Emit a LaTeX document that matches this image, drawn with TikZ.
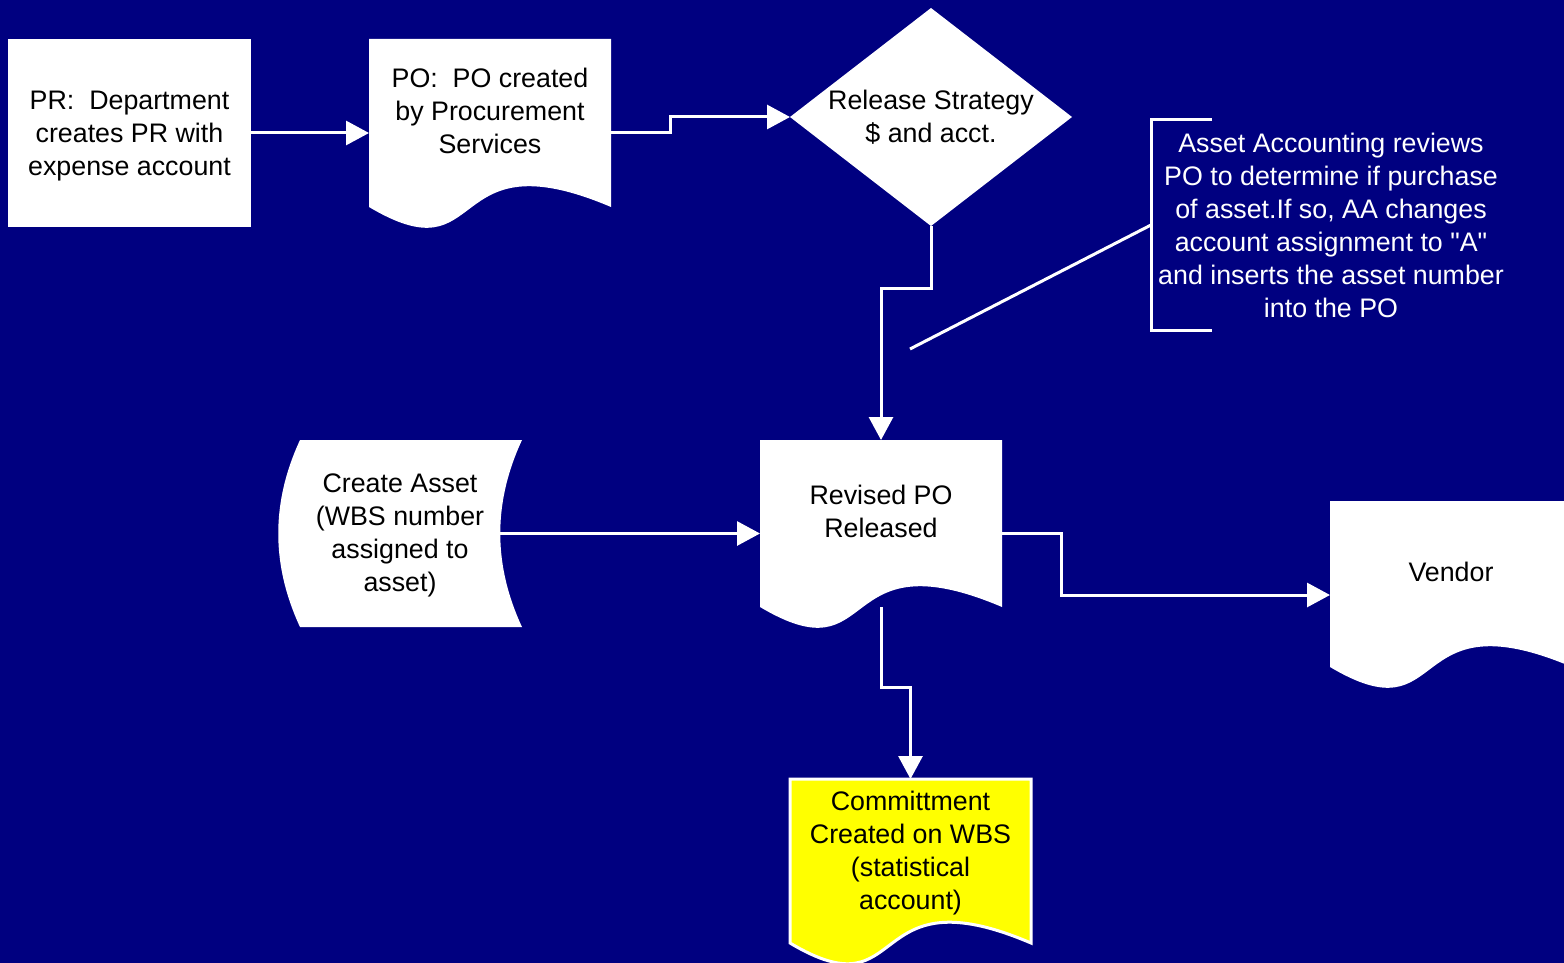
\documentclass[tikz,border=0pt]{standalone}
\usepackage{fontspec}
\setmainfont{Liberation Sans}
\usetikzlibrary{arrows.meta,calc}
\definecolor{navy}{RGB}{0,0,128}
\definecolor{commityellow}{RGB}{255,255,0}
\pgfdeclarelayer{bg}
\pgfdeclarelayer{shapes}
\pgfsetlayers{bg,shapes,main}

% outline of a flowchart "document" symbol built on a rectangular node
\newcommand\docoutline[1]{(#1.north west) -- (#1.north east) -- (#1.south east)
  .. controls ($(#1.south west)!0.3!(#1.south east)+(0,-72)$)
  and ($(#1.south west)!0.5!(#1.south east)+(0,72)$) .. (#1.south west) -- cycle}

\begin{document}
\begin{tikzpicture}[x=0.5pt,y=-0.5pt,
  every node/.style={font=\fontsize{13.4}{16.5}\selectfont, align=center,
    inner sep=0pt, outer sep=0pt},
  conn/.style={draw=white, line width=1.5pt},
  arr/.style={conn, -{Triangle[length=11.5pt,width=12pt]}},
  docfill/.style={fill=white}]

\useasboundingbox (0,0) rectangle (1564,963);
\begin{pgfonlayer}{bg}
  \fill[navy] (0,0) rectangle (1564,963);
\end{pgfonlayer}

% process boxes and decision
\node[fill=white, minimum width=121.5pt, minimum height=94pt] (pr) at (129.5,133) {};
\node (prt) at ($(pr.center)+(0,3)$) {PR:~~Department\\creates PR with\\expense account};

\node[minimum width=121pt, minimum height=84pt] (po) at (490,123) {};
\node (pot) at ($(po.center)+(0,-12)$) {PO:~~PO created\\by Procurement\\Services};

\node[minimum width=141pt, minimum height=109pt] (rs) at (931,117)
  {Release Strategy\\\$ and acct.};

% annotation with bracket
\node[minimum width=30.5pt, minimum height=105pt] (brk) at (1181.5,225) {};
\node[text=white] (note) at (1331,225)
  {Asset Accounting reviews\\PO to determine if purchase\\of asset.If so, AA changes\\account assignment to \textquotedbl A\textquotedbl\\and inserts the asset number\\into the PO};
\coordinate (tail) at (910,349);

\node[minimum width=122pt, minimum height=93.5pt] (ca) at (400,533.5) {};
\node (cat) at ($(ca.center)+(0,2)$) {Create Asset\\(WBS number\\assigned to\\asset)};

\node[minimum width=121pt, minimum height=83.5pt] (revpo) at (881,523.5) {};
\node (revpot) at ($(revpo.center)+(0,-12)$) {Revised PO\\Released};

\node[minimum width=121pt, minimum height=83pt] (vendor) at (1451,584) {};
\node (vendort) at ($(vendor.center)+(0,-12)$) {Vendor};

\node[minimum width=120.5pt, minimum height=82pt] (commit) at (910.5,861) {};
\node (committ) at ($(commit.center)+(0,-7.5)$)
  {Committment\\Created on WBS\\(statistical\\account)};

% symbol outlines, painted beneath the text
\begin{pgfonlayer}{shapes}
  \fill[white] (rs.north) -- (rs.east) -- (rs.south) -- (rs.west) -- cycle;
  \fill[docfill] \docoutline{po};
  \fill[docfill] \docoutline{revpo};
  \fill[docfill] \docoutline{vendor};
  \filldraw[fill=commityellow, draw=white, line width=1.5pt] \docoutline{commit};
  \fill[white, shift={(ca.center)}] (-100,-93.5) -- (122,-93.5)
    .. controls (93,-31) and (93,31) .. (122,93.5) -- (-100,93.5)
    .. controls (-129,31) and (-129,-31) .. cycle;
\end{pgfonlayer}

% bracket and pointer of the annotation
\draw[conn] (brk.north east) -- (brk.north west) -- (brk.south west) -- (brk.south east);
\draw[conn] (brk.west) -- (tail);

% flow connectors
\draw[arr] (pr.east) -- (pr.east -| po.west);
\draw[arr] (po.east |- pr.east) -- ++(59,0) |- (rs.west);
\draw[arr] (rs.south) -- ++(0,62) -| (revpo.north);
\draw[arr] ([xshift=-11pt]ca.east) -- (ca.east -| revpo.west);
\draw[arr] (revpo.east |- ca.east) -- ++(59,0) |- ([yshift=-5.5pt]vendor.west);
\draw[arr] (revpo.south) -- ++(0,80) -| (commit.north);

\end{tikzpicture}
\end{document}
